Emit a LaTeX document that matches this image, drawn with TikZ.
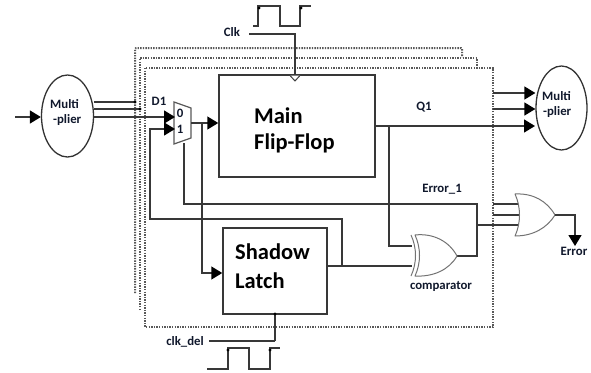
\documentclass[tikz,border=0pt]{standalone}
\usepackage{fontspec}
\setmainfont{Carlito}
\usetikzlibrary{arrows.meta,calc,shapes.geometric}
\definecolor{wire}{gray}{0.22}
\definecolor{ink}{HTML}{10182C}
\tikzset{
  wirel/.style={draw=wire,line width=1.5pt},
  arrowl/.style={wirel,-{Triangle[length=11pt,width=13pt,color=black]}},
  dotbox/.style={draw=black!65,line width=2pt,dash pattern=on 1.4pt off 1.2pt},
  blockbox/.style={draw=wire,line width=1.5pt,rectangle,inner sep=0pt},
  blockname/.style={font=\fontsize{22.5}{27}\selectfont\bfseries,text=black,align=left,inner sep=0pt,anchor=west},
  lbl/.style={font=\fontsize{12.8}{14}\selectfont\bfseries,text=ink,inner sep=0pt},
  multi/.style={draw=black!80,line width=1.3pt,ellipse,inner sep=0pt},
  gatel/.style={draw=black!55,line width=1pt,fill=white,line join=round},
  wave/.style={draw=wire,line width=1.3pt},
}
\begin{document}
\begin{tikzpicture}[x=1pt,y=-1pt]
\useasboundingbox (0,0) rectangle (591,372);
% dotted stacked frames
\draw[dotbox,rounded corners=1pt] (135,293) -- (135,48) -- (462,48) -- (462,57);
\draw[dotbox] (140,310) -- (140,58) -- (477,58) -- (477,67);
\draw[dotbox] (145,68) rectangle (493,327);
% blocks
\node[multi,minimum width=52pt,minimum height=82pt] (mulL) at (67.5,116) {};
\node[multi,minimum width=51pt,minimum height=84pt] (mulR) at (561.5,108) {};
\node[lbl,anchor=west] (mulLa) at (50,104) {Multi};
\node[lbl,anchor=west] (mulLb) at (53,120) {-plier};
\node[lbl,anchor=west] (mulRa) at (542,96) {Multi};
\node[lbl,anchor=west] (mulRb) at (543,112) {-plier};
\node[blockbox,minimum width=156pt,minimum height=102pt] (ff) at (297,126) {};
\node[blockname] (ffa) at (254,116) {Main};
\node[blockname] (ffb) at (254,143) {Flip-Flop};
\node[blockbox,minimum width=104pt,minimum height=86pt] (sl) at (275,271) {};
\node[blockname] (sla) at (235,252) {Shadow};
\node[blockname] (slb) at (235,281) {Latch};
% coordinates
\coordinate (in) at (15,117);
\coordinate (ma) at (175,117);
\coordinate (mb) at (175,129);
\coordinate (mo) at (191,123);
\coordinate (ms) at (184,143);
\coordinate (ffi) at (ff.west |- mo);
\coordinate (sli) at (sl.west |- 0,273);
\coordinate (slo) at (sl.east |- 0,266);
\coordinate (xa) at (412,246);
\coordinate (xb) at (412,266);
\coordinate (xo) at (457,256);
\coordinate (oa) at (519,204);
\coordinate (ob) at (521,215);
\coordinate (oc) at (519,225);
\coordinate (oo) at (555,215);
\coordinate (q) at (ff.east |- 0,126);
\coordinate (ck) at (295,34);
\coordinate (ckd) at (275,341);
% mux
\draw[draw=black!65,line width=1.2pt,fill=white] (174,102) -- (191,108) -- (191,138) -- (174,144) -- cycle;
\node[lbl] (m0) at (180,113) {0};
\node[lbl] (m1) at (180,129) {1};
% left wires
\draw[arrowl] (in) -- (mulL.west |- in);
\draw[wirel] (mulL.east |- 0,102) -- (135,102);
\draw[wirel] (mulL.east |- 0,109) -- (140,109);
\fill[black] (135,102) circle (1.6pt) (140,109) circle (1.6pt);
\draw[arrowl] (mulL.east |- ma) -- (ma);
\draw[arrowl] (342,266) -- (342,219) -- (150,219) -- (150,129) -- (mb);
\draw[arrowl] (mo) -- (ffi);
\draw[arrowl] (202,123) -- (202,273) -- (sli);
\draw[wirel] (ms) -- (184,204) -- (477,204) -- (477,256) -- (xo);
% flip-flop outputs
\draw[arrowl] (493,93) -- (mulR.west |- 0,93);
\draw[arrowl] (493,109) -- (mulR.west |- 0,109);
\draw[arrowl] (q) -- (535,126);
\draw[wirel] (389,126) -- (389,246) -- (xa);
\draw[wirel] (slo) -- (xb);
\draw[wirel] (477,225) -- (oc);
\draw[wirel] (493,204) -- (oa);
\draw[wirel] (493,215) -- (ob);
% gates
\draw[gatel] (415,235) .. controls (433,233) and (449,241) .. (457,256) .. controls (449,270) and (433,277) .. (415,276) .. controls (421,263) and (421,248) .. (415,235) -- cycle;
\draw[gatel,fill=none] (411,235) .. controls (417,248) and (417,263) .. (411,276);
\draw[gatel] (515,194) .. controls (533,193) and (547,201) .. (555,215) .. controls (547,228) and (533,236) .. (515,236) .. controls (521,223) and (521,207) .. (515,194) -- cycle;
% error output
\draw[arrowl] (oo) -- (575,215) -- (575,246);
% clock
\draw[wirel] (249,34) -- (ck) -- (295,75);
\draw[draw=black!75,line width=1pt,fill=white] (290,75.5) -- (295,81) -- (300,75.5);
\draw[wirel] (ckd) -- (209,341);
\draw[wirel] (ckd) -- (sl.south -| ckd);
\fill[black] (275,314) circle (1.7pt);
% waveforms
\draw[wave] (253,26) -- (258,26) -- (258,6) -- (280,6) -- (280,26) -- (300,26) -- (300,6) -- (311,6);
\fill[black] (259,8) circle (1.6pt) (301,8) circle (1.6pt);
\draw[wave] (207,369) -- (228,369) -- (228,348) -- (249,348) -- (249,369) -- (270,369) -- (270,348) -- (280,348);
\fill[black] (228,350) circle (1.6pt) (270,350) circle (1.6pt);
% labels
\node[lbl] (clk) at (232,32) {Clk};
\node[lbl] (clkd) at (185,342) {clk\_del};
\node[lbl] (d1) at (159,101) {D1};
\node[lbl] (q1) at (424,107) {Q1};
\node[lbl] (err1) at (442,189) {Error\_1};
\node[lbl] (comp) at (441,286) {comparator};
\node[lbl] (err) at (574,251) {Error};
\end{tikzpicture}
\end{document}
